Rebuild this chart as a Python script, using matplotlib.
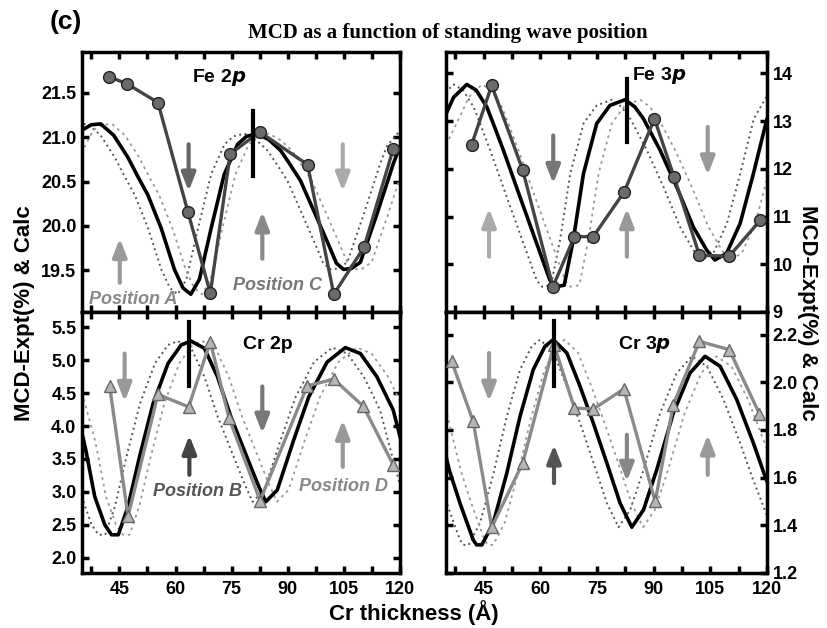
import matplotlib
matplotlib.use("Agg")
import matplotlib.pyplot as plt
from matplotlib.ticker import MultipleLocator, FormatStrFormatter

plt.rcParams['font.family'] = ['Liberation Sans', 'DejaVu Sans']
plt.rcParams['font.weight'] = 'bold'

# ---------------- data ----------------
# Fe 2p
fe2p_exp_x = [42.3, 47.1, 55.3, 63.3, 69.3, 74.6, 82.5, 95.3, 102.3, 110.4, 118.2]
fe2p_exp_y = [21.68, 21.60, 21.39, 20.16, 19.24, 20.81, 21.06, 20.69, 19.23, 19.76, 20.87]
fe2p_calc_x = [31, 35, 37.5, 40, 43.5, 47.3, 50, 52.6, 56.2, 59.7, 62, 64.1, 66.4, 69.5, 73, 76.6, 79, 81.9,
               85, 88.1, 90.5, 93.4, 97.8, 101.4, 103, 104.9, 107, 109.4, 113.8, 118.2, 120, 124]
fe2p_calc_y = [20.75, 21.08, 21.14, 21.15, 21.02, 20.77, 20.55, 20.35, 19.97, 19.51, 19.30, 19.23, 19.40, 19.97,
               20.58, 20.92, 21.01, 21.04, 20.97, 20.85, 20.70, 20.51, 20.09, 19.74, 19.58, 19.51, 19.52, 19.59,
               20.13, 20.70, 20.90, 21.10]
fe2p_lo_x = [27.5, 31.5, 34, 36.5, 40, 43.8, 46.5, 49.1, 52.7, 56.2, 58.5, 60.6, 62.9, 66, 69.5, 73.1, 75.5, 78.4,
             81.5, 84.6, 87, 89.9, 94.3, 97.9, 99.5, 101.4, 103.5, 105.9, 110.3, 114.7, 116.5, 120.5]
fe2p_hi_x = [34, 38, 40.5, 43, 46.5, 50.3, 53, 55.6, 59.2, 62.7, 65, 67.1, 69.4, 72.5, 76, 79.6, 82, 84.9,
             88, 91.1, 93.5, 96.4, 100.8, 104.4, 106, 107.9, 110, 112.4, 116.8, 121.2, 123, 127]

# Fe 3p
fe3p_exp_x = [41.8, 47.1, 55.3, 63.3, 69.0, 74.0, 82.2, 90.2, 95.4, 102.1, 110.0, 118.2]
fe3p_exp_y = [12.51, 13.75, 11.98, 9.53, 10.58, 10.58, 11.52, 13.05, 11.83, 10.19, 10.17, 10.92]
fe3p_calc_x = [31, 35, 37, 40.5, 43, 45.8, 48, 50.2, 54.6, 59, 62.5, 63.9, 66.3, 68.7, 71.4, 74.9, 78.4, 82.4,
               85, 87.3, 91.7, 96.1, 100.5, 104, 106.2, 109.3, 112.9, 116.4, 120, 124]
fe3p_calc_y = [12.5, 13.15, 13.5, 13.77, 13.65, 13.30, 12.85, 12.39, 11.41, 10.44, 9.67, 9.53, 9.56, 10.51,
               11.90, 12.95, 13.33, 13.45, 13.30, 13.05, 12.39, 11.62, 10.78, 10.30, 10.09, 10.23, 10.86,
               11.90, 13.05, 13.6]
fe3p_lo_x = [27.5, 31.5, 33.5, 37, 39.5, 42.3, 44.5, 46.7, 51.1, 55.5, 59, 60.4, 62.8, 65.2, 67.9, 71.4, 74.9,
             78.9, 81.5, 83.8, 88.2, 92.6, 97, 100.5, 102.7, 105.8, 109.4, 112.9, 116.5, 120.5]
fe3p_hi_x = [35, 39, 41, 44.5, 47, 49.8, 52, 54.2, 58.6, 63, 66.5, 67.9, 70.3, 72.7, 75.4, 78.9, 82.4, 86.4,
             89, 91.3, 95.7, 100.1, 104.5, 108, 110.2, 113.3, 116.9, 120.4, 124, 128]

# Cr 2p
cr2p_exp_x = [42.4, 47.3, 55.3, 63.5, 69.3, 74.3, 82.6, 95.2, 102.3, 110.2, 118.2]
cr2p_exp_y = [4.60, 2.63, 4.48, 4.29, 5.28, 4.12, 2.87, 4.61, 4.71, 4.30, 3.41]
cr2p_calc_x = [31, 33, 35.3, 36, 38.4, 41.1, 42.9, 44.7, 47.3, 50.4, 54, 58, 61.5, 64.1, 67.7, 71.2, 74.8,
               78.3, 81.9, 84.1, 87.2, 91.6, 95.6, 100.5, 105.4, 109.4, 113.8, 118.2, 120, 124]
cr2p_calc_y = [4.70, 4.30, 3.82, 3.64, 2.93, 2.50, 2.35, 2.35, 2.78, 3.54, 4.34, 4.95, 5.23, 5.29, 5.18, 4.75,
               4.14, 3.64, 3.13, 2.85, 3.03, 3.79, 4.44, 4.97, 5.19, 5.10, 4.75, 4.24, 3.84, 3.0]
cr2p_lo_x = [27.5, 29.5, 31.8, 32.5, 34.9, 37.6, 39.4, 41.2, 43.8, 46.9, 50.5, 54.5, 58, 60.6, 64.2, 67.7, 71.3,
             74.8, 78.4, 80.6, 83.7, 88.1, 92.1, 97, 101.9, 105.9, 110.3, 114.7, 116.5, 120.5]
cr2p_hi_x = [34, 36, 38.3, 39, 41.4, 44.1, 45.9, 47.7, 50.3, 53.4, 57, 61, 64.5, 67.1, 70.7, 74.2, 77.8,
             81.3, 84.9, 87.1, 90.2, 94.6, 98.6, 103.5, 108.4, 112.4, 116.8, 121.2, 123, 127]

# Cr 3p
cr3p_exp_x = [36.5, 42.2, 47.1, 55.3, 63.6, 69.0, 74.0, 82.1, 90.4, 95.2, 102.1, 110.0, 118.0]
cr3p_exp_y = [2.088, 1.836, 1.392, 1.661, 2.158, 1.892, 1.888, 1.972, 1.50, 1.906, 2.172, 2.137, 1.868]
cr3p_calc_x = [31, 33, 35.9, 38.7, 42.2, 43.1, 44.5, 47.5, 51.1, 54.6, 58.1, 61.2, 63.4, 67, 70.5, 74, 77.6,
               81.1, 84.2, 87.3, 90.8, 95.2, 99.6, 103.6, 107.6, 112, 116.4, 119.5, 124]
cr3p_calc_y = [1.95, 1.82, 1.63, 1.493, 1.339, 1.318, 1.318, 1.409, 1.619, 1.857, 2.053, 2.151, 2.179, 2.123,
               1.983, 1.829, 1.661, 1.493, 1.392, 1.465, 1.633, 1.871, 2.039, 2.109, 2.067, 1.927, 1.745,
               1.605, 1.42]
cr3p_lo_x = [27.5, 29.5, 32.4, 35.2, 38.7, 39.6, 41, 44, 47.6, 51.1, 54.6, 57.7, 59.9, 63.5, 67, 70.5, 74.1,
             77.6, 80.7, 83.8, 87.3, 91.7, 96.1, 100.1, 104.1, 108.5, 112.9, 116, 120.5]
cr3p_hi_x = [34, 36, 38.9, 41.7, 45.2, 46.1, 47.5, 50.5, 54.1, 57.6, 61.1, 64.2, 66.4, 70, 73.5, 77, 80.6,
             84.1, 87.2, 90.3, 93.8, 98.2, 102.6, 106.6, 110.6, 115, 119.4, 122.5, 127]

# arrows (x, tail, tip)
fe2p_arrow_x = [45.1, 63.5, 83.2, 104.7]
fe2p_arrow_tail = [19.36, 20.92, 19.63, 20.92]
fe2p_arrow_tip = [19.86, 20.39, 20.16, 20.39]
fe3p_arrow_x = [46.4, 63.4, 82.9, 104.3]
fe3p_arrow_tail = [10.16, 12.70, 10.16, 12.88]
fe3p_arrow_tip = [11.17, 11.69, 11.17, 11.87]
cr2p_arrow_x = [46.4, 63.7, 83.2, 104.7]
cr2p_arrow_tail = [5.10, 3.26, 4.60, 3.38]
cr2p_arrow_tip = [4.37, 3.86, 3.89, 4.09]
cr3p_arrow_x = [46.4, 63.6, 82.9, 104.3]
cr3p_arrow_tail = [2.123, 1.577, 1.78, 1.612]
cr3p_arrow_tip = [1.92, 1.738, 1.584, 1.78]

# vertical marker bars (x, bottom, top)
fe2p_bar = [80.8, 20.56, 21.29]
fe3p_bar = [82.9, 12.56, 13.89]
cr2p_bar = [63.7, 4.60, 5.58]
cr3p_bar = [63.6, 1.983, 2.256]

x_ticks = [45, 60, 75, 90, 105, 120]
ylabel = "MCD-Expt(%) & Calc"
xlabel = "Cr thickness (Å)"
title = "MCD as a function of standing wave position"

# ---------------- figure ----------------
W, H = 828, 628
fig = plt.figure(figsize=(W / 100, H / 100), dpi=100)


def ax_at(x0, y0, x1, y1):
    return fig.add_axes([x0 / W, 1 - y1 / H, (x1 - x0) / W, (y1 - y0) / H])


ax_fe2 = ax_at(82, 52, 400, 312)
ax_fe3 = ax_at(446, 52, 767, 312)
ax_cr2 = ax_at(82, 312, 400, 573)
ax_cr3 = ax_at(446, 312, 767, 573)


def style(ax, ylim, ymajor, fmt, left, bottom):
    ax.set_xlim(35, 120)
    ax.set_ylim(*ylim)
    ax.xaxis.set_major_locator(MultipleLocator(15))
    ax.xaxis.set_minor_locator(MultipleLocator(7.5))
    ax.yaxis.set_major_locator(MultipleLocator(ymajor))
    ax.yaxis.set_major_formatter(FormatStrFormatter(fmt))
    ax.xaxis.set_major_formatter(FormatStrFormatter('%d'))
    ax.tick_params(which='both', direction='in', length=5, width=2.5, top=True, right=True,
                   labelsize=13)
    ax.tick_params(axis='y', labelleft=left, labelright=not left, pad=4)
    ax.tick_params(axis='x', labelbottom=bottom, pad=5.5)
    for s in ax.spines.values():
        s.set_linewidth(2.5)
    for lab in ax.get_xticklabels() + ax.get_yticklabels():
        lab.set_fontweight('bold')


def draw(ax, cx, cy, lox, hix, ex, ey, marker, ecol, mfc, mec,
         ax_x, ax_tail, ax_tip, acolors, bar):
    ax.plot(lox, cy, color='#555555', lw=1.4, ls=(0, (1, 1.8)), zorder=2)
    ax.plot(hix, cy, color='#999999', lw=1.3, ls=(0, (1.5, 2.2)), zorder=2)
    ax.plot(cx, cy, color='black', lw=2.6, zorder=3)
    ax.plot(ex, ey, color=ecol, lw=2.4, marker=marker, ms=8.5, mfc=mfc, mec=mec, mew=1.0, zorder=4)
    for x, t0, t1, c in zip(ax_x, ax_tail, ax_tip, acolors):
        ax.annotate("", xy=(x, t1), xytext=(x, t0),
                    arrowprops=dict(arrowstyle="-|>,head_length=0.9,head_width=0.35",
                                    lw=3, color=c, shrinkA=0, shrinkB=0, mutation_scale=12),
                    zorder=2)
    ax.plot([bar[0], bar[0]], [bar[1], bar[2]], color='black', lw=3, zorder=5)


draw(ax_fe2, fe2p_calc_x, fe2p_calc_y, fe2p_lo_x, fe2p_hi_x, fe2p_exp_x, fe2p_exp_y, 'o',
     '#444444', '#6a6a6a', '#222222', fe2p_arrow_x, fe2p_arrow_tail, fe2p_arrow_tip,
     ['#9a9a9a', '#666666', '#8a8a8a', '#aaaaaa'], fe2p_bar)
draw(ax_fe3, fe3p_calc_x, fe3p_calc_y, fe3p_lo_x, fe3p_hi_x, fe3p_exp_x, fe3p_exp_y, 'o',
     '#444444', '#6a6a6a', '#222222', fe3p_arrow_x, fe3p_arrow_tail, fe3p_arrow_tip,
     ['#aaaaaa', '#777777', '#999999', '#999999'], fe3p_bar)
draw(ax_cr2, cr2p_calc_x, cr2p_calc_y, cr2p_lo_x, cr2p_hi_x, cr2p_exp_x, cr2p_exp_y, '^',
     '#8a8a8a', '#b5b5b5', '#666666', cr2p_arrow_x, cr2p_arrow_tail, cr2p_arrow_tip,
     ['#999999', '#444444', '#777777', '#999999'], cr2p_bar)
draw(ax_cr3, cr3p_calc_x, cr3p_calc_y, cr3p_lo_x, cr3p_hi_x, cr3p_exp_x, cr3p_exp_y, '^',
     '#8a8a8a', '#b5b5b5', '#666666', cr3p_arrow_x, cr3p_arrow_tail, cr3p_arrow_tip,
     ['#999999', '#555555', '#888888', '#999999'], cr3p_bar)

style(ax_fe2, (19.03, 21.96), 0.5, '%.1f', True, False)
style(ax_fe3, (9.0, 14.45), 1, '%d', False, False)
style(ax_cr2, (1.77, 5.73), 0.5, '%.1f', True, True)
style(ax_cr3, (1.2, 2.295), 0.2, '%.1f', False, True)
ax_cr2.set_xticks(x_ticks)
ax_cr3.set_xticks(x_ticks)

# panel labels
ax_fe2.text(71.6, 21.67, r"Fe 2$\boldsymbol{p}$", fontsize=14, ha='center', va='center')
ax_fe3.text(91.5, 13.96, r"Fe 3$\boldsymbol{p}$", fontsize=14, ha='center', va='center')
ax_cr2.text(84.8, 5.23, "Cr 2p", fontsize=14, ha='center', va='center')
ax_cr3.text(87.7, 2.158, r"Cr 3$\boldsymbol{p}$", fontsize=14, ha='center', va='center')

# position labels
ax_fe2.text(48.6, 19.17, "Position A", fontsize=13, style='italic', color='#888888',
            ha='center', va='center')
ax_fe2.text(87.2, 19.33, "Position C", fontsize=13, style='italic', color='#777777',
            ha='center', va='center')
ax_cr2.text(65.9, 3.0, "Position B", fontsize=13, style='italic', color='#555555',
            ha='center', va='center')
ax_cr2.text(105.0, 3.08, "Position D", fontsize=13, style='italic', color='#888888',
            ha='center', va='center')

fig.text(25 / W, 1 - 313 / H, ylabel, rotation=90, fontsize=16, ha='center', va='center')
fig.text(808 / W, 1 - 313 / H, ylabel, rotation=-90, fontsize=16, ha='center', va='center')
fig.text(414 / W, 1 - 613 / H, xlabel, fontsize=16, ha='center', va='center')
fig.text(448 / W, 1 - 33 / H, title, fontsize=15, ha='center', va='center',
         family=['Liberation Serif', 'DejaVu Serif'])
fig.text(50 / W, 1 - 22 / H, "(c)", fontsize=19, ha='left', va='center')

fig.savefig("out.png", dpi=100)
